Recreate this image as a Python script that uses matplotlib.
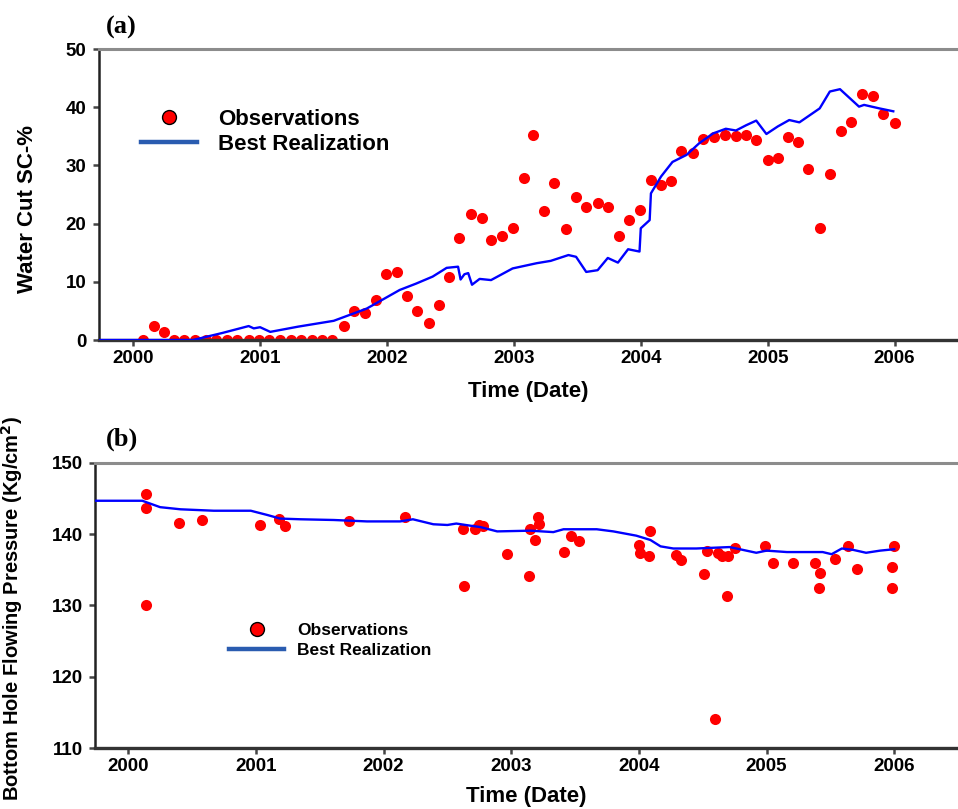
import matplotlib
matplotlib.use("Agg")
import matplotlib.pyplot as plt
from matplotlib.lines import Line2D

plt.rcParams['font.family'] = ['Liberation Sans', 'DejaVu Sans']
plt.rcParams['font.weight'] = 'bold'

# ---- (a) water cut ----
wc_obs_t = [2000.08, 2000.16, 2000.24, 2000.32, 2000.40, 2000.49, 2000.57, 2000.65,
            2000.74, 2000.82, 2000.91, 2000.99, 2001.07, 2001.16, 2001.24, 2001.32,
            2001.41, 2001.49, 2001.57, 2001.66, 2001.74, 2001.83, 2001.91, 2001.99,
            2002.08, 2002.16, 2002.24, 2002.33, 2002.41, 2002.49, 2002.57, 2002.66,
            2002.745, 2002.82, 2002.91, 2002.99, 2003.08, 2003.15, 2003.24, 2003.32,
            2003.41, 2003.49, 2003.57, 2003.66, 2003.74, 2003.83, 2003.91, 2003.99,
            2004.08, 2004.16, 2004.24, 2004.32, 2004.41, 2004.49, 2004.58, 2004.66,
            2004.75, 2004.83, 2004.91, 2005.00, 2005.08, 2005.16, 2005.24, 2005.32,
            2005.41, 2005.49, 2005.58, 2005.66, 2005.74, 2005.83, 2005.91, 2006.00]
wc_obs = [0, 2.4, 1.3, 0, 0, 0, 0, 0,
          0, 0, 0, 0, 0, 0, 0, 0,
          0, 0, 0, 2.4, 5.0, 4.6, 6.8, 11.3,
          11.7, 7.6, 5.0, 3.0, 6.0, 10.8, 17.6, 21.6,
          20.9, 17.2, 17.8, 19.3, 27.9, 35.2, 22.1, 26.9,
          19.1, 24.6, 22.9, 23.5, 22.8, 17.9, 20.6, 22.3,
          27.5, 26.7, 27.3, 32.4, 32.1, 34.6, 34.9, 35.3,
          35.1, 35.2, 34.4, 31.0, 31.2, 34.8, 34.1, 29.3,
          19.2, 28.6, 36.0, 37.5, 42.2, 41.9, 38.8, 37.3]

wc_sim_t = [1999.73, 2000.47, 2000.70, 2000.91, 2000.95, 2001.00, 2001.08, 2001.30,
            2001.58, 2001.84, 2002.10, 2002.23, 2002.36, 2002.47, 2002.56, 2002.58,
            2002.61, 2002.64, 2002.67, 2002.73, 2002.82, 2002.99, 2003.18, 2003.29,
            2003.43, 2003.49, 2003.57, 2003.66, 2003.74, 2003.82, 2003.90, 2003.99,
            2004.00, 2004.07, 2004.08, 2004.16, 2004.25, 2004.36, 2004.46, 2004.57,
            2004.67, 2004.75, 2004.83, 2004.91, 2004.99, 2005.08, 2005.17, 2005.25,
            2005.41, 2005.49, 2005.57, 2005.65, 2005.72, 2005.76, 2005.88, 2005.99]
wc_sim = [0, 0, 1.2, 2.4, 2.0, 2.2, 1.4, 2.3,
          3.3, 5.4, 8.6, 9.7, 10.9, 12.4, 12.6, 10.4,
          11.3, 11.5, 9.5, 10.5, 10.3, 12.3, 13.2, 13.6,
          14.6, 14.3, 11.7, 12.0, 14.1, 13.3, 15.6, 15.2,
          19.2, 20.6, 25.2, 28.1, 30.6, 31.8, 33.8, 35.5,
          36.3, 36.0, 36.9, 37.7, 35.4, 36.7, 37.8, 37.4,
          39.8, 42.7, 43.1, 41.5, 40.1, 40.4, 39.8, 39.3]

# ---- (b) bottom hole pressure ----
bhp_obs_t = [2000.14, 2000.14, 2000.14, 2000.40, 2000.58, 2001.03, 2001.18, 2001.23,
             2001.73, 2002.17, 2002.62, 2002.63, 2002.72, 2002.75, 2002.78, 2002.97,
             2003.14, 2003.15, 2003.19, 2003.21, 2003.22, 2003.41, 2003.47, 2003.53,
             2004.00, 2004.01, 2004.08, 2004.09, 2004.29, 2004.33, 2004.51, 2004.53,
             2004.60, 2004.62, 2004.65, 2004.69, 2004.70, 2004.75, 2004.99, 2005.05,
             2005.21, 2005.38, 2005.42, 2005.41, 2005.54, 2005.64, 2005.71, 2005.98,
             2005.98, 2006.00]
bhp_obs = [145.6, 143.7, 130.1, 141.6, 142.0, 141.3, 142.2, 141.1,
           141.9, 142.4, 140.7, 132.8, 140.7, 141.3, 141.2, 137.2,
           134.2, 140.7, 139.2, 142.4, 141.4, 137.5, 139.7, 139.0,
           138.5, 137.4, 137.0, 140.5, 137.1, 136.4, 134.4, 137.6,
           114.1, 137.4, 136.9, 131.3, 136.9, 138.1, 138.3, 135.9,
           135.9, 135.9, 134.5, 132.4, 136.5, 138.3, 135.1, 135.4,
           132.4, 138.3]

bhp_sim_t = [1999.74, 2000.11, 2000.25, 2000.41, 2000.67, 2000.96, 2001.09, 2001.19,
             2001.35, 2001.61, 2001.87, 2002.13, 2002.23, 2002.39, 2002.50, 2002.57,
             2002.68, 2002.76, 2002.89, 2003.15, 2003.33, 2003.41, 2003.67, 2003.80,
             2003.98, 2004.09, 2004.17, 2004.27, 2004.45, 2004.71, 2004.79, 2004.92,
             2005.00, 2005.16, 2005.44, 2005.51, 2005.59, 2005.68, 2005.78, 2005.89,
             2006.00]
bhp_sim = [144.7, 144.7, 143.8, 143.5, 143.3, 143.3, 142.7, 142.2,
           142.1, 142.0, 141.8, 141.8, 142.1, 141.4, 141.3, 141.5,
           141.2, 141.0, 140.4, 140.5, 140.3, 140.7, 140.7, 140.4,
           139.8, 139.2, 138.3, 138.0, 138.0, 138.2, 137.9, 137.4,
           137.7, 137.5, 137.5, 137.2, 138.0, 137.8, 137.4, 137.7,
           137.9]

years = [2000, 2001, 2002, 2003, 2004, 2005, 2006]

fig = plt.figure(figsize=(9.58, 8.09), dpi=100)
ax1 = fig.add_axes([0.1033, 0.5797, 0.8967, 0.3597])
ax2 = fig.add_axes([0.0992, 0.0754, 0.9008, 0.3523])


def style(ax):
    ax.spines['right'].set_visible(False)
    ax.spines['top'].set_color('#8c8c8c')
    ax.spines['top'].set_linewidth(2.2)
    ax.spines['left'].set_color('#222222')
    ax.spines['left'].set_linewidth(1.8)
    ax.spines['bottom'].set_color('#333333')
    ax.spines['bottom'].set_linewidth(2.4)
    ax.tick_params(axis='both', direction='out', length=4, width=1.8,
                   color='#444444', labelsize=13.5)
    ax.tick_params(axis='y', pad=5)
    ax.tick_params(axis='x', pad=3)
    ax.set_xticks(years)
    ax.set_xticklabels([str(y) for y in years])
    for lab in ax.get_xticklabels() + ax.get_yticklabels():
        lab.set_fontweight('bold')


obs_handle = Line2D([], [], marker='o', linestyle='none', markersize=10,
                    markerfacecolor='#ff0000', markeredgecolor='black',
                    markeredgewidth=1.0)
sim_handle = Line2D([], [], color='#2a5cb0', linewidth=3.2)

# panel (a)
ax1.plot(wc_obs_t, wc_obs, 'o', color='#ff0000', markersize=8,
         markeredgewidth=0, zorder=2)
ax1.plot(wc_sim_t, wc_sim, color='#0000ff', linewidth=1.7, zorder=3)
ax1.set_xlim(1999.73, 2006.5)
ax1.set_ylim(0, 50)
ax1.set_yticks([0, 10, 20, 30, 40, 50])
style(ax1)
ax1.set_xlabel('Time (Date)', fontsize=16, fontweight='bold', labelpad=10)
ax1.set_ylabel('Water Cut SC-%', fontsize=16, fontweight='bold')
ax1.yaxis.set_label_coords(-0.071, 0.45)
ax1.legend([obs_handle, sim_handle], ['Observations', 'Best Realization'],
           loc='upper left', bbox_to_anchor=(0.049, 0.795), frameon=False,
           fontsize=16, handlelength=2.5, handletextpad=0.95,
           labelspacing=0.2, borderpad=0, borderaxespad=0, numpoints=1)

# panel (b)
ax2.plot(bhp_obs_t, bhp_obs, 'o', color='#ff0000', markersize=8,
         markeredgewidth=0, zorder=2)
ax2.plot(bhp_sim_t, bhp_sim, color='#0000ff', linewidth=1.7, zorder=3)
ax2.set_xlim(1999.74, 2006.5)
ax2.set_ylim(110, 150)
ax2.set_yticks([110, 120, 130, 140, 150])
style(ax2)
ax2.set_xlabel('Time (Date)', fontsize=16, fontweight='bold', labelpad=8)
ax2.set_ylabel('Bottom Hole Flowing Pressure (Kg/cm$^\\mathbf{2}$)',
               fontsize=14.5, fontweight='bold')
ax2.yaxis.set_label_coords(-0.081, 0.49)
ax2.legend([obs_handle, sim_handle], ['Observations', 'Best Realization'],
           loc='upper left', bbox_to_anchor=(0.155, 0.44), frameon=False,
           fontsize=12.5, handlelength=3.2, handletextpad=0.75,
           labelspacing=0.27, borderpad=0, borderaxespad=0, numpoints=1)

fig.text(0.127, 0.966, '(a)', fontsize=19, fontweight='bold',
         family=['Liberation Serif', 'DejaVu Serif'], ha='center', va='center')
fig.text(0.127, 0.457, '(b)', fontsize=19, fontweight='bold',
         family=['Liberation Serif', 'DejaVu Serif'], ha='center', va='center')

fig.savefig('out.png', dpi=100)
